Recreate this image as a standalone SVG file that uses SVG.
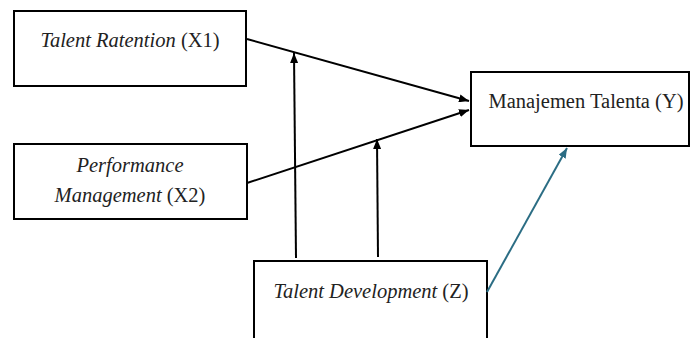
<svg xmlns="http://www.w3.org/2000/svg" width="691" height="338" viewBox="0 0 691 338">
<style>
.box{fill:#fff;stroke:#000;stroke-width:2}
.t{font-family:"Liberation Serif","Times New Roman",serif;font-size:20.5px;fill:#222}
.i{font-style:italic}
.c{stroke:#000;stroke-width:2;fill:none}
.teal{stroke:#2b6d84;stroke-width:2;fill:none}
</style>
<defs>
<marker id="ah" viewBox="0 0 10 8" refX="10" refY="4" markerWidth="10" markerHeight="8" markerUnits="userSpaceOnUse" orient="auto">
<path d="M0,0 L10,4 L0,8 Z" fill="#000"/>
</marker>
<marker id="aht" viewBox="0 0 10 8" refX="10" refY="4" markerWidth="10" markerHeight="8" markerUnits="userSpaceOnUse" orient="auto">
<path d="M0,0 L10,4 L0,8 Z" fill="#2b6d84"/>
</marker>
</defs>
<rect width="691" height="338" fill="#fff"/>
<g id="x1">
<rect class="box" x="14" y="11" width="232" height="75"/>
<text class="t" x="130" y="47" text-anchor="middle"><tspan class="i">Talent Ratention</tspan> (X1)</text>
</g>
<g id="x2">
<rect class="box" x="14" y="144" width="233" height="75"/>
<text class="t i" x="130" y="172" text-anchor="middle">Performance</text>
<text class="t" x="130" y="202" text-anchor="middle"><tspan class="i">Management</tspan> (X2)</text>
</g>
<g id="y">
<rect class="box" x="471" y="72" width="218" height="74"/>
<text class="t" x="586" y="108" text-anchor="middle">Manajemen Talenta (Y)</text>
</g>
<g id="z">
<rect class="box" x="254" y="261" width="233" height="90"/>
<text class="t" x="371" y="298" text-anchor="middle"><tspan class="i">Talent Development</tspan> (Z)</text>
</g>
<g id="connectors">
<line class="c" x1="247" y1="39" x2="469" y2="101" marker-end="url(#ah)"/>
<line class="c" x1="247" y1="183" x2="469" y2="110" marker-end="url(#ah)"/>
<line class="c" x1="296" y1="258" x2="294" y2="53" marker-end="url(#ah)"/>
<line class="c" x1="378" y1="257" x2="377" y2="139" marker-end="url(#ah)"/>
<line class="teal" x1="487" y1="292" x2="567" y2="148" marker-end="url(#aht)"/>
</g>
</svg>
